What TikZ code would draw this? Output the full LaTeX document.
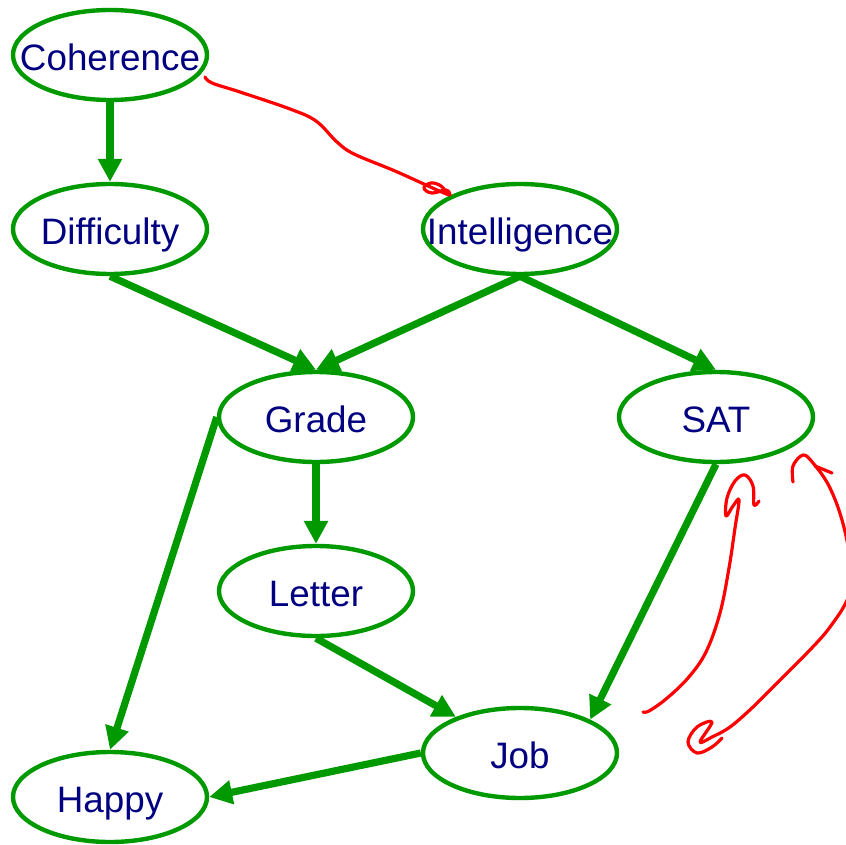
\documentclass[tikz,border=0pt]{standalone}
\usepackage{fontspec}
\setmainfont{Liberation Sans}
\usetikzlibrary{shapes.geometric}
\usetikzlibrary{arrows.meta}
\definecolor{netgreen}{RGB}{0,153,0}
\definecolor{varblue}{RGB}{0,0,128}
\colorlet{inkred}{red}
\newcommand{\vname}[1]{\makebox[0pt]{#1}}
\tikzset{var/.style={
  ellipse,draw=netgreen,line width=2.2pt,
  minimum width=97pt,minimum height=45pt,inner sep=0pt,
  text height=15.5pt,text depth=0pt,
  text=varblue,font=\fontsize{18.4}{22}\selectfont
}}
\tikzset{dep/.style={
  draw=netgreen,line width=3.6pt,
  -{Triangle[length=11.5pt,width=11.5pt]}
}}
\tikzset{scrawl/.style={
  inkred,line width=1.6pt,line cap=round,line join=round
}}

\begin{document}
\begin{tikzpicture}[x=0.5pt,y=-0.5pt]
    \clip (0,0) rectangle (846,845);
    \node[var] (C) at (110,55) {\vname{Coherence}};
    \node[var] (D) at (110,229) {\vname{Difficulty}};
    \node[var] (I) at (520,229) {\vname{Intelligence}};
    \node[var] (G) at (316,417) {\vname{Grade}};
    \node[var] (S) at (716,417) {\vname{SAT}};
    \node[var] (L) at (316,591) {\vname{Letter}};
    \node[var] (J) at (520,753) {\vname{Job}};
    \node[var] (H) at (110,797) {\vname{Happy}};
    \draw[dep] (C.south) -- (D.north);
    \draw[dep] (D.south) -- (G.north);
    \draw[dep] (I.south) -- (G.north);
    \draw[dep] (I.south) -- (S.north);
    \draw[dep] (G.south) -- (L.north);
    \draw[dep] (G.west) -- (H.north);
    \draw[dep] (L.south) -- (J);
    \draw[dep] (S.south) -- (J.north east);
    \draw[dep] (J.west) -- (H.east);
    \draw[scrawl] plot[smooth,tension=0.6] coordinates {(205,77) (212,83) (240,92)
      (290,109) (316,121) (337,142) (354,154) (395,171) (437,190) (449,195)};
    \draw[scrawl] plot[smooth,tension=0.7] coordinates {(447,194) (441,186)
      (431,183) (424,188) (432,193) (446,190) (450,195)};
    \draw[scrawl] plot[smooth,tension=0.6] coordinates {(643,712) (649,711)
      (666,699) (688,678) (706,652) (720,613) (729,568) (735,528) (739,500)
      (733,506) (726,516) (727,498) (735,481) (745,475) (753,486) (754,505)
      (759,501)};
    \draw[scrawl] plot[smooth,tension=0.6] coordinates {(793,482) (793,466)
      (803,455) (813,463) (829,486) (842,520) (850,560) (849,595) (830,627)
      (807,653) (780,680) (753,707) (730,727) (712,737) (700,742) (712,722)
      (697,727) (688,742) (697,753) (712,747) (722,738)};
    \draw[scrawl] (815,466) -- (832,473);
\end{tikzpicture}
\end{document}
